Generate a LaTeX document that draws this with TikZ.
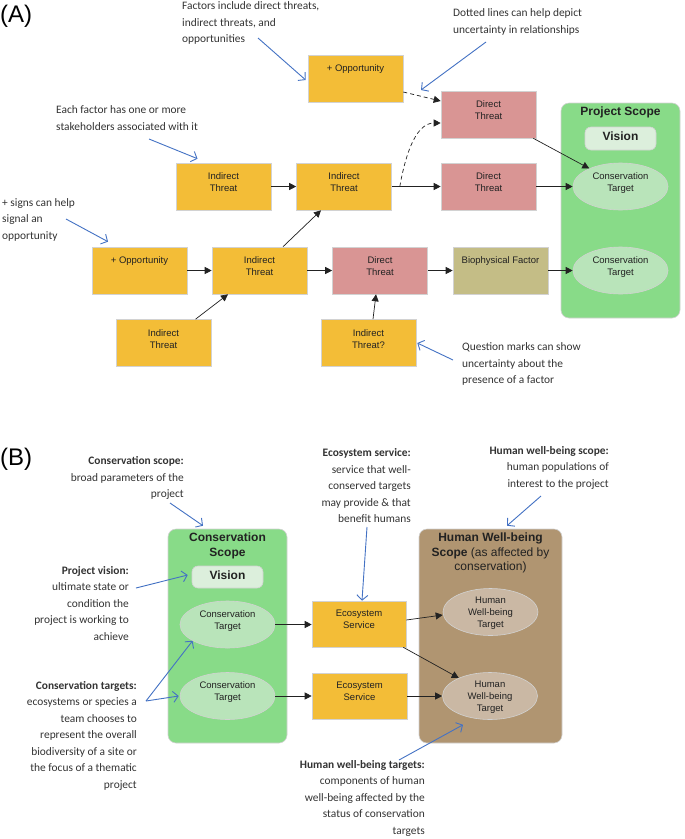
\documentclass[tikz,border=0pt]{standalone}
\usepackage{fontspec}
\setmainfont{Carlito}
\newfontfamily\arialf{Liberation Sans}
\usetikzlibrary{arrows.meta,shapes.geometric}
\definecolor{orangeF}{HTML}{F3BD37}
\definecolor{pinkF}{HTML}{D99594}
\definecolor{oliveF}{HTML}{C4BD86}
\definecolor{greenS}{HTML}{88DB88}
\definecolor{ellG}{HTML}{B9E4BA}
\definecolor{visG}{HTML}{DCEFDC}
\definecolor{brownS}{HTML}{B09571}
\definecolor{ellB}{HTML}{CAB8A4}
\definecolor{bordC}{HTML}{D2D2D2}
\definecolor{blueA}{HTML}{4472C4}
\definecolor{annC}{HTML}{333333}
\definecolor{boxT}{HTML}{222222}
\newcommand\tb[1]{\parbox[c][47pt][t]{95pt}{\centering\rule{0pt}{16.5pt}#1}}
\newcommand\ctxt[1]{\parbox[c][30pt][t]{64pt}{\centering\rule{0pt}{7.5pt}#1}}
\newcommand\htxt[1]{\parbox[c][30pt][t]{64pt}{\centering\rule{0pt}{6.5pt}#1}}
\newcommand\stitle[3]{\parbox[c][#2][t]{#1}{\centering\rule{0pt}{12.5pt}#3}}
\newcommand\fl{\rule{0pt}{9pt}}
\begin{document}
\begin{tikzpicture}[x=1pt,y=-1pt,
  fbox/.style={draw=bordC, line width=0.6pt, inner sep=0pt, text=boxT,
    font=\arialf\fontsize{9.5}{12}\selectfont},
  obox/.style={fbox, fill=orangeF},
  pbox/.style={fbox, fill=pinkF},
  bbox/.style={fbox, fill=oliveF},
  ell/.style={ellipse, draw=bordC, line width=0.6pt, minimum width=95pt, minimum height=47pt,
    inner sep=0pt, text=boxT, font=\arialf\fontsize{9.5}{12}\selectfont},
  ellg/.style={ell, fill=ellG},
  ellb/.style={ell, fill=ellB},
  scopebox/.style={draw=bordC, line width=0.6pt, rounded corners=8pt, inner sep=0pt,
    text=boxT, font=\arialf\fontsize{12}{14.5}\selectfont},
  visbox/.style={draw=bordC, line width=0.6pt, fill=visG, rounded corners=6pt,
    minimum width=71pt, minimum height=23pt, inner sep=0pt, text depth=4pt,
    text=boxT, font=\arialf\bfseries\fontsize{12}{14}\selectfont},
  blk/.style={draw=boxT, line width=0.7pt, -{Triangle[length=7pt,width=7pt]}},
  blkd/.style={blk, dash pattern=on 4pt off 3pt},
  blu/.style={draw=blueA, line width=0.9pt, -{Straight Barb[length=5pt,width=11pt]}},
  ann/.style={font=\fontsize{11.4}{16.5}\selectfont, text=annC, inner sep=0pt},
  annl/.style={ann, align=left, anchor=north west},
  annr/.style={ann, align=right, anchor=north east},
  panel/.style={font=\arialf\fontsize{24}{28}\selectfont, inner sep=0pt, anchor=base west}
]
\useasboundingbox (0,0) rectangle (685,839);
\fill[white] (0,0) rectangle (685,839);

% ---------------- Panel A ----------------
\node[panel] (labA) at (0,22) {(A)};

\node[scopebox, fill=greenS] (psA) at (620.5,210.5)
  {\stitle{119pt}{215pt}{\textbf{Project Scope}}};
\node[visbox] (visA) at (620.5,138.5) {Vision};
\node[ellg] (ct1) at (620.5,186.5) {\ctxt{Conservation\\Target}};
\node[ellg] (ct2) at (620.5,270.5) {\ctxt{Conservation\\Target}};

\node[obox] (opp1) at (355.5,78.5) {\tb{+ Opportunity}};
\node[pbox] (dt1) at (488.5,114.5) {\tb{Direct\\Threat}};
\node[obox] (it1) at (223.5,186.5) {\tb{Indirect\\Threat}};
\node[obox] (it2) at (344,186.5) {\tb{Indirect\\Threat}};
\node[pbox] (dt2) at (488.5,186.5) {\tb{Direct\\Threat}};
\node[obox] (opp2) at (139.5,270.5) {\tb{+ Opportunity}};
\node[obox] (it3) at (259.5,270.5) {\tb{Indirect\\Threat}};
\node[pbox] (dt3) at (380,270.5) {\tb{Direct\\Threat}};
\node[bbox] (bio) at (500.5,270.5) {\tb{Biophysical Factor}};
\node[obox] (it4) at (163.5,343) {\tb{Indirect\\Threat}};
\node[obox] (it5) at (368.5,343) {\tb{Indirect\\Threat?}};

\draw[blk] (it1.east) -- (it2.west);
\draw[blk] (it2.east) -- (dt2.west);
\draw[blk] (dt2.east) -- (ct1.west);
\draw[blk] (opp2.east) -- (it3.west);
\draw[blk] (it3.east) -- (dt3.west);
\draw[blk] (dt3.east) -- (bio.west);
\draw[blk] (bio.east) -- (ct2.west);
\draw[blk] ([xshift=32pt]it4.north) -- ([xshift=-31.5pt]it3.south);
\draw[blk] ([xshift=23.5pt]it3.north) -- ([xshift=-23pt]it2.south);
\draw[blk] ([xshift=4.5pt]it5.north) -- ([xshift=-4pt]dt3.south);
\draw[blk] ([xshift=-3pt]dt1.south east) -- (ct1.150);
\draw[blkd] ([yshift=-13.5pt]opp1.east) -- ([yshift=13.5pt]dt1.west);
\coordinate (dc) at ([xshift=8pt]it2.east);
\draw[blkd] (dc) to[out=80,in=180,looseness=0.9] ([yshift=-8.5pt]dt1.west);

% annotations A
\node[annl] (a1) at (182,0.5) {\fl Factors include direct threats,\\indirect threats, and\\opportunities};
\node[annl] (a2) at (453,7.5) {\fl Dotted lines can help depict\\uncertainty in relationships};
\node[annl] (a3) at (56,104.5) {\fl Each factor has one or more\\stakeholders associated with it};
\node[annl] (a4) at (2,197) {\fl + signs can help\\signal an\\opportunity};
\node[annl] (a5) at (462,341.5) {\fl Question marks can show\\uncertainty about the\\presence of a factor};

\coordinate (s1) at (258,38);
\coordinate (s2) at (486,42);
\coordinate (e2) at (421,90);
\coordinate (s3) at (149,139);
\coordinate (s4) at (66,219);
\coordinate (s5) at (453,360);
\draw[blu] (s1) -- ([xshift=-2pt,yshift=-1.5pt]opp1.west);
\draw[blu] (s2) -- (e2);
\draw[blu] (s3) -- ([xshift=-26pt,yshift=4pt]it1.north);
\draw[blu] (s4) -- ([xshift=-31.5pt,yshift=5pt]opp2.north);
\draw[blu] (s5) -- ([xshift=1pt]it5.east);

% ---------------- Panel B ----------------
\node[panel] (labB) at (0,465) {(B)};

\node[scopebox, fill=greenS] (csB) at (227.5,636)
  {\stitle{119pt}{214pt}{\textbf{Conservation}\\\textbf{Scope}}};
\node[visbox, minimum height=22pt] (visB) at (227.5,577) {Vision};
\node[ellg] (ctB1) at (227.5,624.5) {\ctxt{Conservation\\Target}};
\node[ellg] (ctB2) at (227.5,696) {\ctxt{Conservation\\Target}};

\node[scopebox, fill=brownS] (hwS) at (490.5,636)
  {\stitle{143pt}{214pt}{\textbf{Human Well-being}\\\textbf{Scope} (as affected by\\conservation)}};
\node[ellb] (hw1) at (490.5,612) {\htxt{Human\\Well-being\\Target}};
\node[ellb] (hw2) at (490,696) {\htxt{Human\\Well-being\\Target}};

\node[obox] (es1) at (359,624) {\parbox[c][46pt][t]{94pt}{\centering\rule{0pt}{15.5pt}Ecosystem\\Service}};
\node[obox] (es2) at (359.5,696) {\parbox[c][46pt][t]{95pt}{\centering\rule{0pt}{15.5pt}Ecosystem\\Service}};

\draw[blk] (ctB1.east) -- (ctB1.east -| es1.west);
\draw[blk] (ctB2.east) -- (es2.west);
\draw[blk] ([yshift=4pt]es1.east) -- ([yshift=-3pt]hw1.west);
\draw[blk] ([xshift=-3pt]es1.south east) -- (hw2.150);
\draw[blk] (es2.east) -- (hw2.west);

% annotations B
\node[annr] (b1) at (184,455.5) {\fl\textbf{Conservation scope:}\\broad parameters of the\\project};
\node[annr] (b2) at (129,565) {\fl\textbf{Project vision:}\\ultimate state or\\condition the\\project is working to\\achieve};
\node[annr] (b3) at (137,680) {\fl\textbf{Conservation targets:}\\ecosystems or species a\\team chooses to\\represent the overall\\biodiversity of a site or\\the focus of a thematic\\project};
\node[annr] (b4) at (411,447.5) {\fl\textbf{Ecosystem service:}\\service that well-\\conserved targets\\may provide \& that\\benefit humans};
\node[annr] (b5) at (609,445) {\fl\textbf{Human well-being scope:}\\human populations of\\interest to the project};
\node[annr] (b6) at (425,759) {\fl\textbf{Human well-being targets:}\\components of human\\well-being affected by the\\status of conservation\\targets};

\coordinate (t1) at (170,503);
\coordinate (t2) at (136,588);
\coordinate (t3) at (146,701);
\coordinate (t4) at (367,527);
\coordinate (t5) at (541,496);
\coordinate (t6) at (399,760);
\draw[blu] (t1) -- ([xshift=-24.5pt,yshift=3pt]csB.north);
\draw[blu] (t2) -- ([xshift=-4pt,yshift=2pt]visB.west);
\draw[blu] (t3) -- (ctB1.205);
\draw[blu] (t3) -- ([xshift=-1pt]ctB2.west);
\draw[blu] (t4) -- ([xshift=3pt]es1.north);
\draw[blu] (t5) -- ([xshift=16.5pt,yshift=3pt]hwS.north);
\draw[blu] (t6) -- ([xshift=-27pt,yshift=-5pt]hw2.south);
\end{tikzpicture}
\end{document}
